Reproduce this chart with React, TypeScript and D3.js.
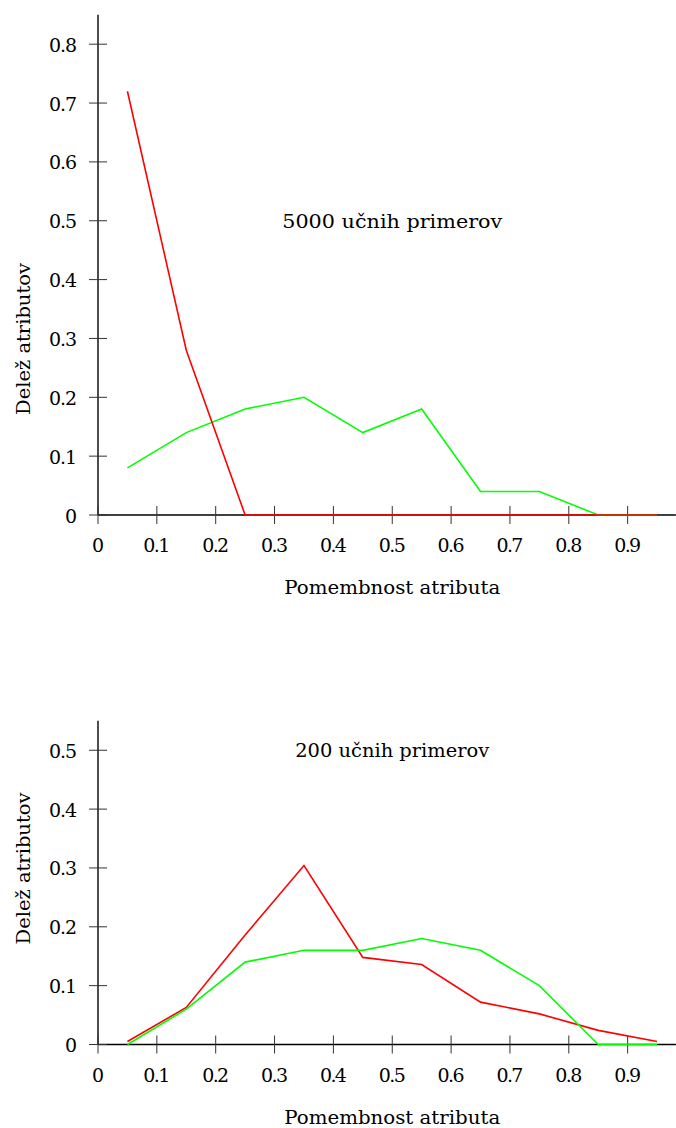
import * as d3 from 'd3';

// x positions (bin centres)
const BINS = [0.05, 0.15, 0.25, 0.35, 0.45, 0.55, 0.65, 0.75, 0.85, 0.95];
const X_TICKS = [0, 0.1, 0.2, 0.3, 0.4, 0.5, 0.6, 0.7, 0.8, 0.9];

// 5000 training examples
const TOP_RED = [0.72, 0.28, 0, 0, 0, 0, 0, 0, 0, 0];
const TOP_GREEN = [0.08, 0.14, 0.18, 0.2, 0.14, 0.18, 0.04, 0.04, 0, 0];
const TOP_Y_TICKS = [0, 0.1, 0.2, 0.3, 0.4, 0.5, 0.6, 0.7, 0.8];

// 200 training examples
const BOTTOM_RED = [0.005, 0.063, 0.186, 0.304, 0.148, 0.136, 0.072, 0.052, 0.024, 0.005];
const BOTTOM_GREEN = [0, 0.06, 0.14, 0.16, 0.16, 0.18, 0.16, 0.1, 0, 0];
const BOTTOM_Y_TICKS = [0, 0.1, 0.2, 0.3, 0.4, 0.5];

const FONT = "'DejaVu Serif', 'Liberation Serif', serif";
const FS = 19;
const PX = 588.5; // pixels per unit on both axes

const Panel = ({ top, yMax, yTicks, title, titleLen, series }) => {
  const left = 98;
  const x = d3.scaleLinear().domain([0, 0.982]).range([left, left + 0.982 * PX]);
  const y = d3.scaleLinear().domain([0, yMax]).range([top + yMax * PX, top]);
  const line = d3
    .line()
    .x((d) => x(d[0]))
    .y((d) => y(d[1]));
  const y0 = y(0);

  return (
    <g style={{ fontFamily: FONT }} fill="#000" fontSize={FS}>
      <line x1={x(0)} x2={x(0.982)} y1={y0} y2={y0} stroke="#000" strokeWidth={1.4} />
      <line x1={left} x2={left} y1={y0} y2={y(yMax)} stroke="#000" strokeWidth={1.4} />
      {X_TICKS.map((t) => (
        <g key={`x${t}`}>
          <line x1={x(t)} x2={x(t)} y1={y0 - 9} y2={y0 + 9} stroke="#333" strokeWidth={1} />
          <text x={x(t)} y={y0 + 37} textAnchor="middle" textLength={t === 0 ? undefined : 27}>
            {t === 0 ? '0' : t.toFixed(1)}
          </text>
        </g>
      ))}
      {yTicks.map((t) => (
        <g key={`y${t}`}>
          <line x1={left - 9} x2={left + 9} y1={y(t)} y2={y(t)} stroke="#333" strokeWidth={1} />
          <text x={left - 21} y={y(t) + 7.5} textAnchor="end" textLength={t === 0 ? undefined : 28}>
            {t === 0 ? '0' : t.toFixed(1)}
          </text>
        </g>
      ))}
      {series.map((s) => (
        <path
          key={s.color}
          d={line(BINS.map((b, i) => [b, s.values[i]]))}
          fill="none"
          stroke={s.color}
          strokeWidth={1.6}
        />
      ))}
      <text x={x(0.5)} y={y0 + 79} textAnchor="middle" textLength={216} lengthAdjust="spacingAndGlyphs">
        Pomembnost atributa
      </text>
      <text
        transform={`translate(30,${y0 - 176}) rotate(-90)`}
        textAnchor="middle"
        textLength={152}
        lengthAdjust="spacingAndGlyphs"
      >
        Delež atributov
      </text>
      <text
        x={x(0.5)}
        y={y(0.5) + 7}
        textAnchor="middle"
        textLength={titleLen}
        lengthAdjust="spacingAndGlyphs"
      >
        {title}
      </text>
    </g>
  );
};

export default function App() {
  return (
    <div style={{ position: 'absolute', left: 0, top: 0 }}>
      <svg width={676} height={1128} style={{ display: 'block', background: '#fff' }}>
        <Panel
          top={515 - 0.85 * PX}
          yMax={0.85}
          yTicks={TOP_Y_TICKS}
          title="5000 učnih primerov"
          titleLen={220}
          series={[
            { color: '#00ff00', values: TOP_GREEN },
            { color: '#ff0000', values: TOP_RED },
          ]}
        />
        <Panel
          top={1044.5 - 0.55 * PX}
          yMax={0.55}
          yTicks={BOTTOM_Y_TICKS}
          title="200 učnih primerov"
          titleLen={194}
          series={[
            { color: '#ff0000', values: BOTTOM_RED },
            { color: '#00ff00', values: BOTTOM_GREEN },
          ]}
        />
      </svg>
    </div>
  );
}
